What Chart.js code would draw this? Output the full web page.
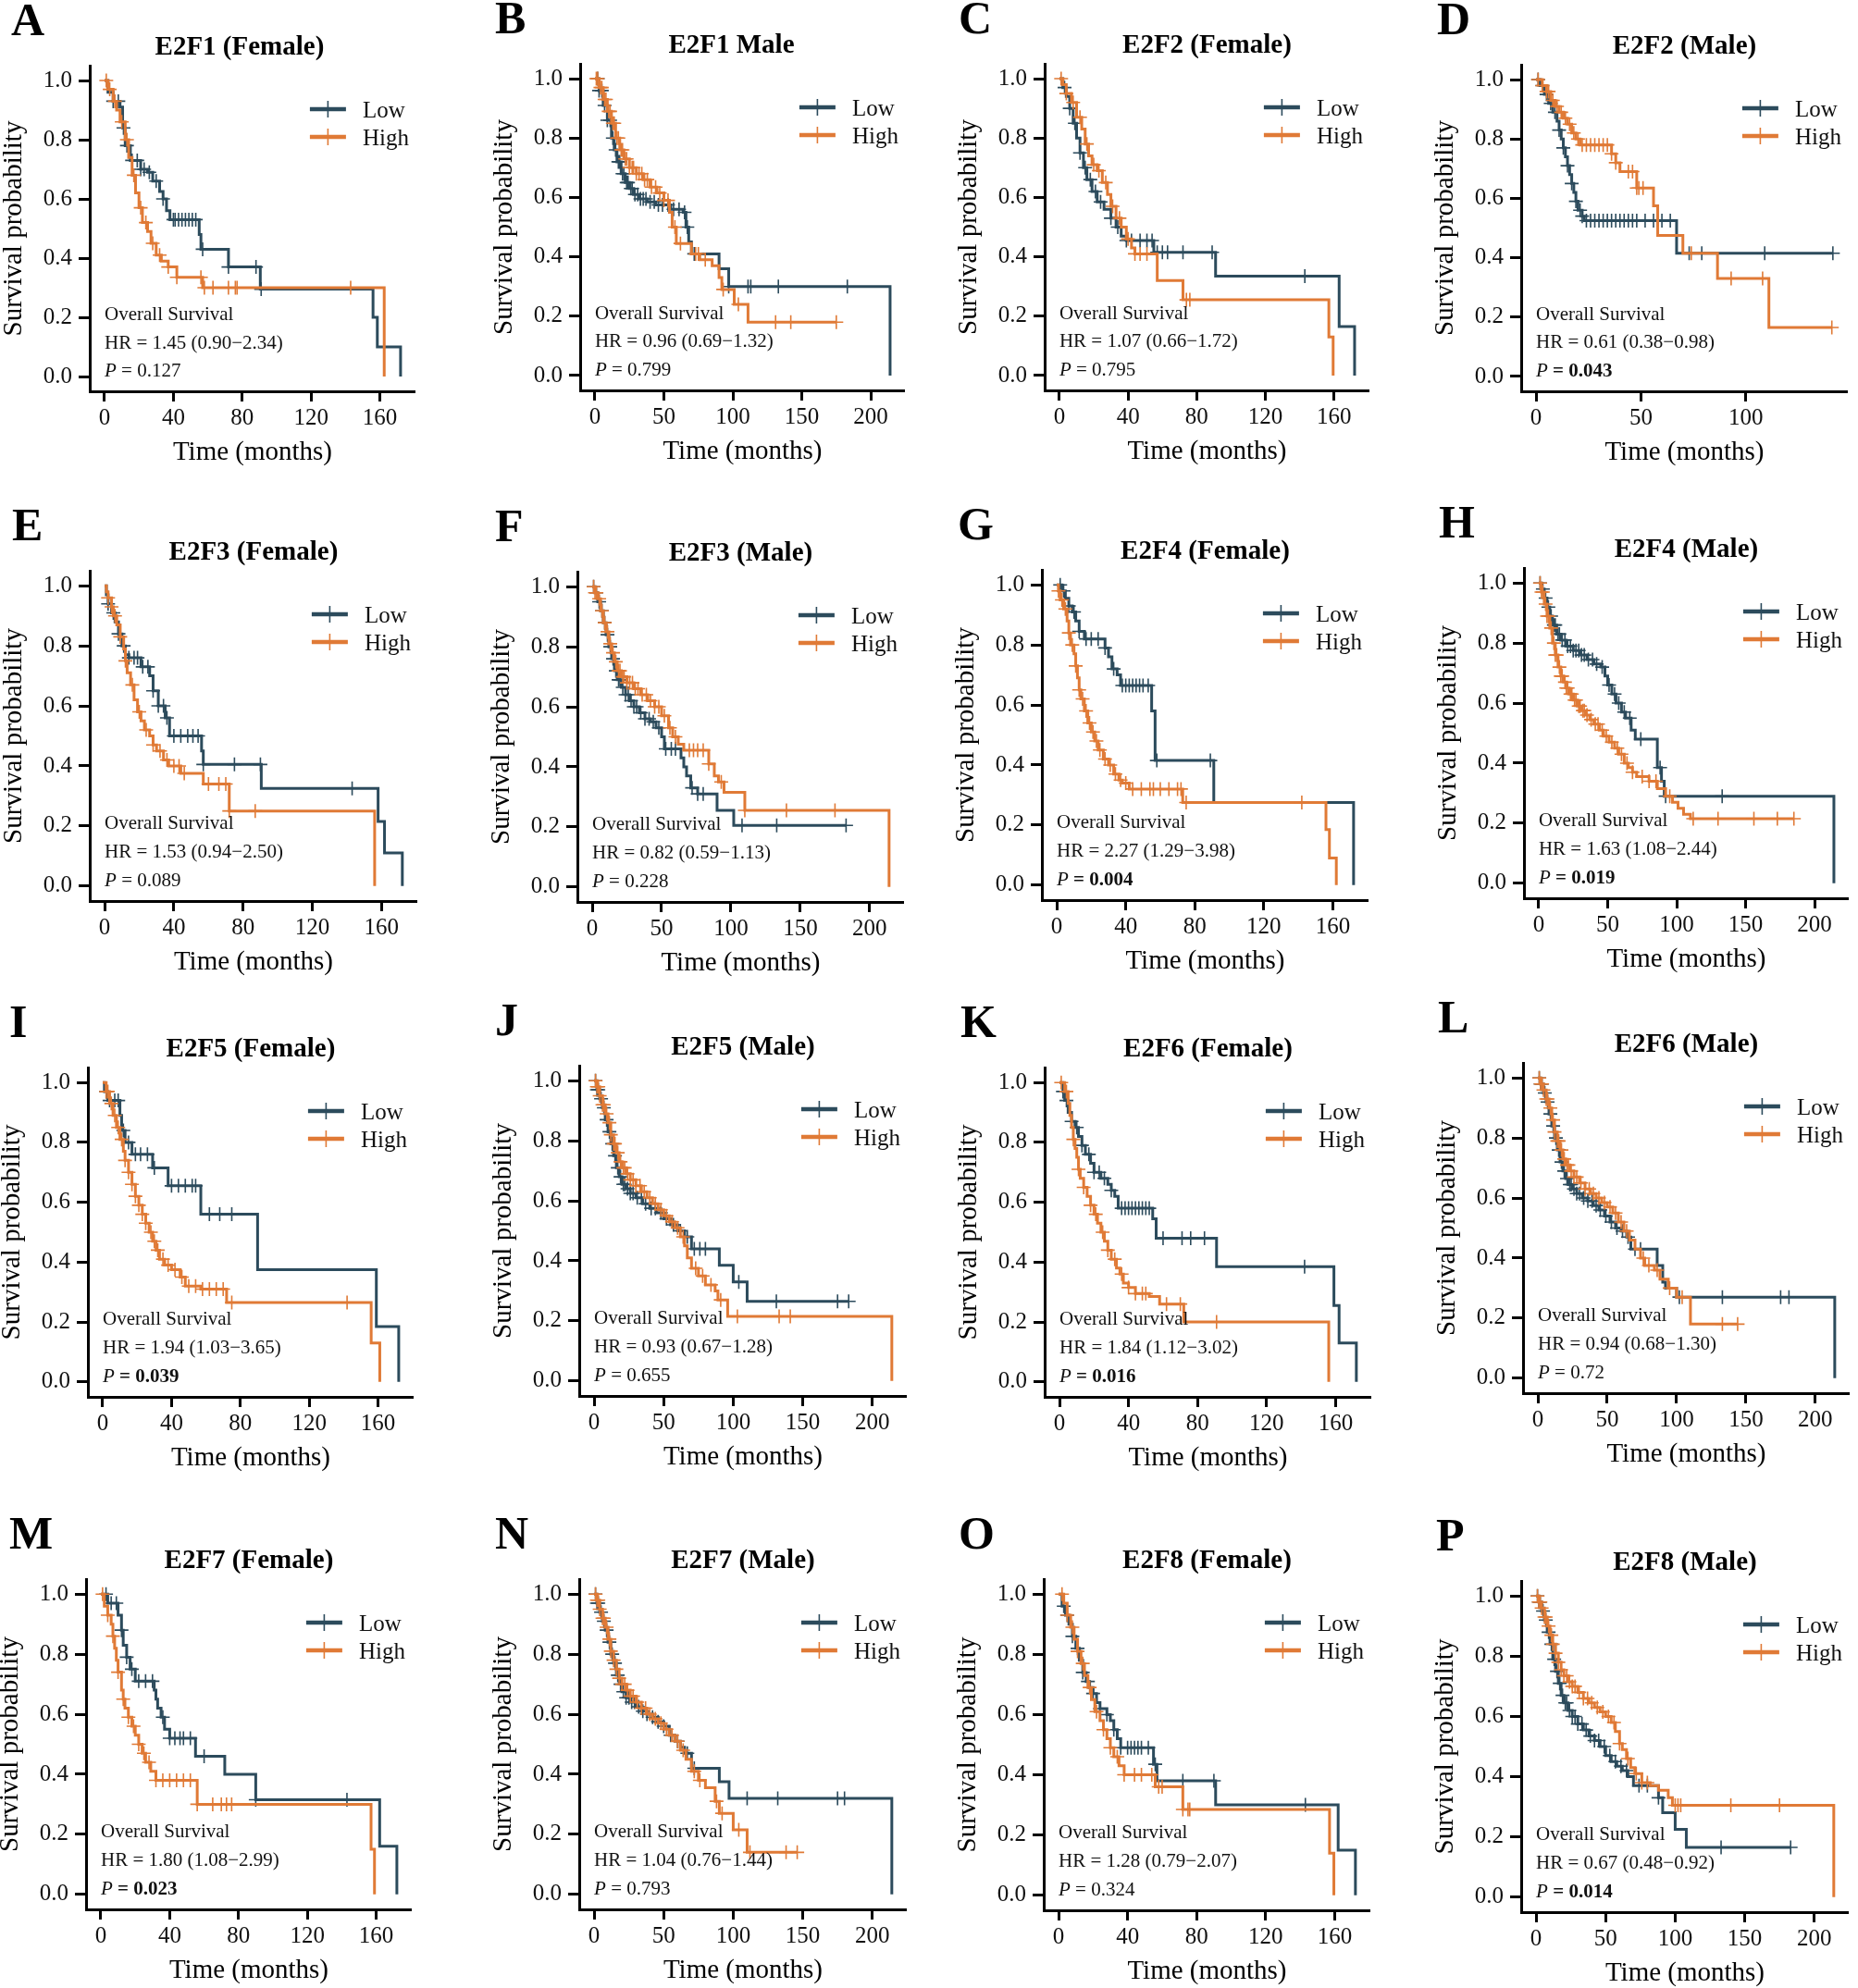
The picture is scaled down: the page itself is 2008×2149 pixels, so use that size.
<!DOCTYPE html>
<html lang="en">

<head>
    <meta charset="UTF-8">
    <title>E2F family survival by sex</title>
    <script src="https://cdn.jsdelivr.net/npm/chart.js"></script>
    <style>
        html,
        body {
            margin: 0;
            padding: 0;
            background: #fff;
            overflow: hidden;
        }

        body {
            width: 2008px;
            height: 2149px;
            position: relative;
        }

        canvas {
            position: absolute;
        }
    </style>
</head>

<body>
    <script>
        // Kaplan-Meier curves: event times, survival after each drop, censor times
        const A_low_t = [2, 5, 9, 10.5, 12, 15, 21, 25, 28, 32, 34, 36, 38, 55, 56, 72, 90.5, 156, 158.5, 172];
        const A_low_s = [0.96, 0.93, 0.91, 0.84, 0.78, 0.73, 0.70, 0.69, 0.66, 0.625, 0.60, 0.56, 0.53, 0.48, 0.43, 0.37, 0.295, 0.20, 0.10, 0];
        const A_low_c = [5, 8, 11, 13, 16, 19, 21, 23, 26, 30, 34, 40, 41, 43, 45, 47, 49, 51, 53, 57, 72, 88, 91];
        const A_high_t = [2, 5, 7, 9, 12, 14, 16, 18, 20, 22, 25, 27, 30, 33, 37, 42, 57, 162.5];
        const A_high_s = [0.97, 0.93, 0.90, 0.86, 0.80, 0.74, 0.68, 0.62, 0.57, 0.52, 0.49, 0.45, 0.41, 0.39, 0.37, 0.335, 0.30, 0];
        const A_high_c = [1, 3, 6, 10, 13, 17, 21, 24, 28, 32, 37, 42, 56, 58, 63, 72, 76, 77, 143];

        const B_low_t = [3, 6, 9, 12, 14, 16, 19, 22, 25, 28, 32, 38, 44, 55, 64, 66, 68, 70, 90, 97, 214];
        const B_low_s = [0.96, 0.91, 0.86, 0.80, 0.76, 0.72, 0.68, 0.65, 0.63, 0.61, 0.595, 0.585, 0.575, 0.56, 0.55, 0.50, 0.45, 0.41, 0.36, 0.30, 0];
        const B_low_c = [2, 3, 5, 7, 9, 11, 13, 15, 17, 18, 20, 21, 23, 24, 26, 27, 29, 31, 33, 35, 37, 40, 43, 46, 49, 53, 57, 61, 65, 67, 72, 97, 111, 113, 133, 183];
        const B_high_t = [3, 6, 9, 12, 15, 18, 21, 25, 30, 35, 40, 45, 50, 54, 56, 59, 70, 76, 85, 90, 92, 101, 111];
        const B_high_s = [0.97, 0.93, 0.89, 0.85, 0.80, 0.76, 0.73, 0.70, 0.68, 0.66, 0.635, 0.615, 0.59, 0.55, 0.50, 0.445, 0.41, 0.39, 0.37, 0.33, 0.29, 0.24, 0.18];
        const B_high_c = [1, 2, 4, 5, 7, 8, 10, 11, 13, 14, 16, 17, 19, 20, 22, 23, 25, 27, 28, 30, 32, 34, 36, 38, 41, 44, 47, 50, 53, 58, 62, 73, 75, 80, 93, 104, 131, 142, 175];

        const C_low_t = [2, 4, 6, 8, 10, 12, 14, 16, 19, 22, 26, 30, 33, 36, 39, 55, 91, 163, 172];
        const C_low_s = [0.97, 0.94, 0.90, 0.85, 0.80, 0.75, 0.70, 0.66, 0.62, 0.585, 0.56, 0.53, 0.50, 0.47, 0.455, 0.415, 0.335, 0.165, 0];
        const C_low_c = [3, 6, 9, 12, 15, 18, 21, 24, 30, 34, 39, 42, 47, 51, 54, 57, 60, 63, 72, 89, 143];
        const C_high_t = [2, 4, 7, 10, 13, 15, 17, 19, 22, 25, 28, 30, 33, 36, 39, 42, 44, 57, 72, 157, 159.5];
        const C_high_s = [0.98, 0.95, 0.92, 0.87, 0.83, 0.78, 0.74, 0.71, 0.69, 0.65, 0.61, 0.57, 0.53, 0.50, 0.46, 0.43, 0.41, 0.32, 0.255, 0.13, 0];
        const C_high_c = [1, 4, 8, 12, 16, 20, 23, 27, 31, 35, 40, 44, 47, 51, 74, 76];

        const D_low_t = [2, 4, 6, 8, 10, 11, 12, 13, 14, 15, 16, 17, 18, 19, 20, 22, 23, 67];
        const D_low_s = [0.98, 0.95, 0.92, 0.89, 0.86, 0.83, 0.80, 0.77, 0.74, 0.71, 0.68, 0.65, 0.62, 0.59, 0.56, 0.54, 0.525, 0.415];
        const D_low_c = [1, 3, 5, 7, 9, 11, 13, 15, 17, 19, 21, 22, 24, 26, 28, 30, 32, 34, 36, 38, 40, 42, 44, 46, 48, 52, 56, 60, 64, 73, 79, 109, 141.5];
        const D_high_t = [3, 5, 7, 9, 11, 13, 15, 17, 19, 21, 36, 38, 40, 48, 56, 58, 70, 86.5, 111];
        const D_high_s = [0.98, 0.96, 0.93, 0.91, 0.89, 0.87, 0.85, 0.82, 0.80, 0.78, 0.75, 0.72, 0.69, 0.635, 0.575, 0.475, 0.415, 0.33, 0.165];
        const D_high_c = [1, 3, 5, 6, 8, 10, 12, 14, 16, 18, 20, 22, 24, 26, 28, 30, 32, 34, 36, 38, 44, 46, 48, 49, 51, 74, 93, 108, 141];

        const E_low_t = [1, 2, 4, 6, 8, 10, 12, 14, 21, 26, 28, 31, 35, 37.5, 56, 57, 90.5, 158, 161.7, 172];
        const E_low_s = [0.97, 0.94, 0.91, 0.88, 0.84, 0.80, 0.77, 0.76, 0.73, 0.70, 0.65, 0.60, 0.56, 0.50, 0.45, 0.405, 0.325, 0.215, 0.11, 0];
        const E_low_c = [2, 5, 8, 11, 14, 17, 19, 22, 25, 28, 31, 34, 36, 40, 44, 48, 51, 54, 57, 75, 90, 143];
        const E_high_t = [1, 2, 4, 5, 7, 9, 11, 12, 13, 15, 17, 19, 21, 23, 26, 28, 30, 34, 37, 44, 57, 72, 156];
        const E_high_s = [0.98, 0.96, 0.93, 0.90, 0.87, 0.83, 0.79, 0.75, 0.71, 0.67, 0.62, 0.58, 0.55, 0.52, 0.50, 0.47, 0.45, 0.42, 0.40, 0.375, 0.34, 0.25, 0];
        const E_high_c = [2, 4, 6, 9, 12, 16, 20, 24, 28, 32, 36, 40, 43, 46, 60, 66, 70, 72, 87];

        const F_low_t = [2, 4, 6, 8, 10, 12, 14, 16, 18, 21, 24, 27, 30, 34, 38, 42, 46, 50, 52, 64, 66, 68, 71, 76, 90, 102];
        const F_low_s = [0.98, 0.95, 0.92, 0.88, 0.84, 0.80, 0.76, 0.72, 0.69, 0.665, 0.64, 0.62, 0.60, 0.58, 0.56, 0.55, 0.53, 0.50, 0.46, 0.43, 0.40, 0.37, 0.33, 0.31, 0.255, 0.205];
        const F_low_c = [1, 3, 5, 7, 9, 11, 13, 15, 17, 19, 20, 22, 24, 26, 28, 30, 32, 35, 38, 41, 44, 48, 53, 57, 60, 72, 76, 80, 108, 133, 183];
        const F_high_t = [2, 4, 6, 8, 10, 12, 14, 16, 18, 21, 25, 30, 35, 40, 45, 50, 55, 58, 62, 66, 84, 88, 91, 95, 110, 214];
        const F_high_s = [0.98, 0.96, 0.92, 0.88, 0.85, 0.81, 0.78, 0.75, 0.72, 0.70, 0.68, 0.66, 0.64, 0.62, 0.60, 0.57, 0.53, 0.50, 0.475, 0.455, 0.41, 0.37, 0.35, 0.315, 0.255, 0];
        const F_high_c = [1, 2, 3, 5, 7, 9, 11, 13, 15, 17, 19, 20, 22, 23, 25, 27, 29, 31, 33, 36, 39, 42, 45, 48, 52, 56, 60, 70, 73, 76, 80, 84, 93, 110, 140, 175];

        const G_low_t = [3, 5, 7, 9, 11, 13, 16, 28, 30, 32, 35, 37, 55, 57, 91, 172];
        const G_low_s = [0.98, 0.955, 0.93, 0.91, 0.88, 0.845, 0.82, 0.79, 0.76, 0.72, 0.70, 0.665, 0.58, 0.415, 0.275, 0];
        const G_low_c = [2, 4, 7, 10, 13, 17, 20, 24, 28, 33, 38, 40, 42, 44, 46, 48, 50, 53, 58, 89];
        const G_high_t = [1, 2, 4, 6, 7, 8, 10, 11, 12, 13, 14, 16, 18, 20, 22, 24, 27, 30, 33, 36, 38, 42, 73, 156, 158, 162];
        const G_high_s = [0.98, 0.95, 0.92, 0.88, 0.84, 0.80, 0.77, 0.73, 0.69, 0.65, 0.62, 0.58, 0.54, 0.51, 0.48, 0.45, 0.42, 0.40, 0.37, 0.35, 0.34, 0.32, 0.275, 0.185, 0.09, 0];
        const G_high_c = [1, 3, 5, 7, 9, 11, 13, 15, 17, 19, 21, 23, 25, 28, 31, 34, 37, 40, 44, 49, 54, 56, 60, 65, 70, 72, 75, 142];

        const H_low_t = [2, 4, 6, 8, 10, 13, 16, 20, 25, 30, 35, 40, 45, 48, 50, 53, 56, 60, 63, 67, 70, 86, 89, 91, 214];
        const H_low_s = [0.98, 0.95, 0.92, 0.89, 0.86, 0.83, 0.81, 0.79, 0.775, 0.76, 0.745, 0.73, 0.72, 0.69, 0.66, 0.63, 0.60, 0.57, 0.55, 0.51, 0.48, 0.385, 0.34, 0.29, 0];
        const H_low_c = [1, 3, 5, 7, 9, 11, 12, 14, 15, 17, 19, 21, 23, 25, 27, 29, 31, 33, 36, 39, 42, 46, 51, 55, 58, 62, 66, 74, 88, 92, 133];
        const H_high_t = [2, 4, 6, 8, 10, 12, 14, 16, 18, 20, 22, 25, 28, 31, 34, 37, 40, 44, 47, 51, 55, 58, 62, 65, 68, 71, 80, 86, 92, 97, 101, 105, 110];
        const H_high_s = [0.97, 0.93, 0.89, 0.85, 0.80, 0.76, 0.72, 0.69, 0.67, 0.65, 0.63, 0.61, 0.59, 0.575, 0.56, 0.545, 0.53, 0.51, 0.49, 0.47, 0.45, 0.43, 0.40, 0.385, 0.37, 0.355, 0.34, 0.315, 0.29, 0.27, 0.25, 0.23, 0.215];
        const H_high_c = [1, 2, 3, 5, 6, 7, 9, 11, 12, 13, 15, 16, 17, 19, 20, 21, 23, 24, 26, 27, 29, 30, 32, 33, 35, 38, 41, 43, 46, 49, 53, 57, 60, 64, 68, 75, 80, 85, 95, 112, 130, 156, 173, 185];

        const I_low_t = [1, 3, 10, 11, 13, 17, 29, 38, 57, 90, 159, 172];
        const I_low_s = [0.97, 0.94, 0.89, 0.84, 0.80, 0.76, 0.715, 0.655, 0.56, 0.375, 0.185, 0];
        const I_low_c = [2, 4, 7, 9, 12, 15, 19, 22, 26, 30, 40, 44, 48, 52, 54, 62, 68, 75];
        const I_high_t = [2, 4, 6, 8, 10, 12, 13, 15, 17, 19, 21, 23, 25, 27, 29, 31, 33, 36, 40, 45, 48, 57, 72, 156, 161];
        const I_high_s = [0.97, 0.93, 0.89, 0.85, 0.81, 0.77, 0.74, 0.70, 0.66, 0.62, 0.59, 0.56, 0.53, 0.50, 0.47, 0.44, 0.41, 0.39, 0.375, 0.35, 0.32, 0.31, 0.265, 0.13, 0];
        const I_high_c = [2, 3, 5, 7, 9, 11, 13, 15, 17, 19, 21, 23, 25, 28, 30, 32, 35, 38, 42, 46, 50, 54, 58, 62, 66, 70, 75, 142];

        const J_low_t = [2, 4, 6, 8, 10, 12, 14, 16, 18, 20, 23, 26, 30, 35, 40, 45, 50, 55, 60, 65, 70, 90, 100, 110];
        const J_low_s = [0.97, 0.94, 0.91, 0.87, 0.83, 0.79, 0.75, 0.71, 0.68, 0.655, 0.64, 0.625, 0.61, 0.59, 0.575, 0.56, 0.54, 0.52, 0.50, 0.48, 0.44, 0.385, 0.33, 0.265];
        const J_low_c = [1, 2, 3, 5, 7, 9, 11, 13, 15, 17, 19, 21, 22, 24, 26, 28, 31, 34, 37, 41, 44, 48, 52, 57, 62, 67, 72, 76, 80, 104, 131, 175, 183];
        const J_high_t = [2, 4, 6, 8, 10, 12, 14, 16, 18, 20, 23, 26, 30, 34, 38, 42, 46, 50, 54, 58, 62, 65, 67, 70, 75, 80, 87, 89, 96, 214];
        const J_high_s = [0.98, 0.95, 0.92, 0.89, 0.86, 0.82, 0.79, 0.76, 0.73, 0.71, 0.69, 0.67, 0.65, 0.63, 0.61, 0.59, 0.57, 0.55, 0.53, 0.51, 0.48, 0.45, 0.41, 0.375, 0.35, 0.32, 0.30, 0.27, 0.215, 0];
        const J_high_c = [1, 2, 3, 4, 6, 7, 9, 11, 12, 14, 15, 17, 19, 21, 22, 24, 26, 28, 30, 33, 36, 40, 44, 48, 52, 56, 60, 64, 73, 78, 84, 91, 103, 133, 141];

        const K_low_t = [2, 3, 5, 7, 9, 11, 13, 15, 18, 20, 24, 28, 30, 32, 34, 54, 56, 91, 159, 162, 172];
        const K_low_s = [0.97, 0.94, 0.90, 0.87, 0.85, 0.82, 0.79, 0.76, 0.73, 0.70, 0.68, 0.66, 0.64, 0.62, 0.58, 0.545, 0.48, 0.385, 0.255, 0.13, 0];
        const K_low_c = [2, 4, 7, 10, 13, 17, 20, 23, 26, 30, 36, 38, 40, 42, 44, 46, 48, 50, 52, 60, 71, 76, 84, 142];
        const K_high_t = [3, 5, 6, 7, 8, 9, 10, 11, 12, 14, 16, 18, 20, 22, 24, 26, 28, 30, 33, 35, 37, 40, 44, 52, 58, 72, 156];
        const K_high_s = [0.97, 0.93, 0.89, 0.85, 0.81, 0.78, 0.75, 0.71, 0.68, 0.65, 0.62, 0.59, 0.56, 0.53, 0.50, 0.47, 0.44, 0.41, 0.38, 0.36, 0.33, 0.315, 0.295, 0.285, 0.26, 0.20, 0];
        const K_high_c = [1, 4, 8, 11, 14, 18, 21, 25, 28, 32, 36, 40, 44, 48, 50, 62, 70, 91];

        const L_low_t = [2, 4, 6, 8, 10, 12, 14, 16, 18, 20, 22, 25, 28, 32, 36, 40, 44, 48, 52, 56, 60, 64, 67, 86, 90, 92, 100, 214];
        const L_low_s = [0.98, 0.95, 0.92, 0.88, 0.84, 0.80, 0.76, 0.72, 0.69, 0.665, 0.645, 0.63, 0.615, 0.60, 0.59, 0.575, 0.56, 0.54, 0.52, 0.50, 0.49, 0.47, 0.43, 0.375, 0.32, 0.30, 0.27, 0];
        const L_low_c = [1, 2, 3, 5, 7, 9, 11, 13, 15, 17, 19, 21, 23, 24, 26, 28, 30, 33, 36, 39, 42, 45, 49, 53, 57, 61, 65, 70, 74, 102, 133, 175, 181];
        const L_high_t = [2, 4, 6, 8, 10, 12, 14, 16, 18, 20, 23, 26, 30, 34, 38, 42, 46, 50, 54, 58, 62, 66, 70, 74, 77, 84, 88, 94, 100, 110];
        const L_high_s = [0.98, 0.96, 0.93, 0.90, 0.86, 0.82, 0.79, 0.76, 0.73, 0.71, 0.69, 0.67, 0.65, 0.63, 0.615, 0.60, 0.585, 0.57, 0.55, 0.52, 0.49, 0.46, 0.43, 0.40, 0.375, 0.36, 0.33, 0.30, 0.27, 0.18];
        const L_high_c = [1, 2, 3, 4, 6, 7, 9, 11, 12, 14, 15, 17, 19, 21, 22, 24, 26, 28, 31, 34, 37, 40, 44, 48, 52, 56, 60, 64, 76, 80, 86, 95, 104, 133, 144];

        const M_low_t = [4, 10, 12, 13, 15, 17, 20, 31, 32, 33, 35, 37, 40, 55, 72, 90, 162, 172];
        const M_low_s = [0.97, 0.93, 0.88, 0.83, 0.79, 0.75, 0.71, 0.68, 0.65, 0.62, 0.59, 0.55, 0.52, 0.46, 0.40, 0.315, 0.16, 0];
        const M_low_c = [3, 6, 9, 12, 15, 18, 22, 26, 30, 36, 40, 43, 46, 48, 52, 60, 90, 143];
        const M_high_t = [2, 4, 6, 7, 8, 9, 10, 12, 13, 14, 16, 18, 20, 22, 24, 26, 29, 32, 56, 157, 159];
        const M_high_s = [0.96, 0.93, 0.90, 0.86, 0.82, 0.78, 0.74, 0.68, 0.65, 0.62, 0.59, 0.56, 0.53, 0.50, 0.47, 0.44, 0.41, 0.38, 0.30, 0.15, 0];
        const M_high_c = [1, 4, 7, 10, 13, 16, 19, 22, 25, 28, 32, 36, 40, 44, 48, 52, 56, 65, 70, 73, 76];

        const N_low_t = [2, 4, 6, 8, 10, 12, 14, 16, 18, 20, 23, 26, 30, 34, 38, 42, 46, 50, 54, 58, 62, 65, 70, 90, 97, 214];
        const N_low_s = [0.97, 0.94, 0.91, 0.88, 0.84, 0.80, 0.77, 0.73, 0.70, 0.675, 0.655, 0.64, 0.625, 0.61, 0.60, 0.59, 0.575, 0.56, 0.53, 0.51, 0.49, 0.47, 0.42, 0.375, 0.32, 0];
        const N_low_c = [1, 2, 3, 5, 7, 9, 11, 13, 15, 17, 19, 21, 23, 25, 27, 29, 32, 35, 38, 42, 46, 50, 55, 60, 67, 72, 110, 132, 175, 180];
        const N_high_t = [2, 4, 6, 8, 10, 12, 14, 16, 18, 20, 23, 26, 30, 34, 38, 42, 46, 50, 54, 58, 62, 66, 70, 75, 80, 87, 90, 100, 110];
        const N_high_s = [0.98, 0.95, 0.92, 0.89, 0.85, 0.81, 0.78, 0.75, 0.72, 0.70, 0.68, 0.66, 0.64, 0.62, 0.60, 0.585, 0.57, 0.55, 0.53, 0.51, 0.48, 0.45, 0.41, 0.38, 0.355, 0.31, 0.27, 0.215, 0.14];
        const N_high_c = [1, 2, 3, 4, 6, 7, 9, 11, 12, 14, 16, 18, 20, 22, 24, 26, 28, 31, 34, 37, 40, 44, 48, 52, 56, 60, 64, 72, 76, 88, 92, 104, 112, 138, 146];

        const O_low_t = [2, 4, 6, 8, 10, 12, 14, 16, 18, 20, 22, 24, 28, 30, 32, 34, 36, 55, 57, 91, 162, 172];
        const O_low_s = [0.96, 0.93, 0.90, 0.86, 0.82, 0.78, 0.74, 0.71, 0.69, 0.67, 0.64, 0.62, 0.60, 0.58, 0.55, 0.52, 0.49, 0.435, 0.38, 0.30, 0.15, 0];
        const O_low_c = [3, 5, 8, 11, 14, 17, 20, 24, 28, 32, 36, 40, 42, 44, 46, 48, 52, 56, 72, 90, 143];
        const O_high_t = [3, 5, 7, 9, 11, 13, 15, 17, 19, 21, 24, 26, 28, 30, 32, 35, 38, 56, 72, 157, 159.5];
        const O_high_s = [0.97, 0.93, 0.89, 0.85, 0.81, 0.77, 0.73, 0.69, 0.65, 0.61, 0.58, 0.55, 0.52, 0.49, 0.46, 0.43, 0.40, 0.36, 0.285, 0.14, 0];
        const O_high_c = [2, 5, 8, 11, 14, 18, 22, 26, 30, 34, 38, 44, 48, 54, 58, 60, 72, 75, 76];

        const P_low_t = [2, 4, 6, 8, 10, 12, 14, 16, 18, 20, 23, 26, 30, 34, 38, 42, 46, 50, 54, 58, 62, 66, 70, 88, 91, 100, 108];
        const P_low_s = [0.98, 0.95, 0.92, 0.88, 0.84, 0.79, 0.75, 0.71, 0.67, 0.645, 0.62, 0.60, 0.575, 0.555, 0.535, 0.52, 0.50, 0.47, 0.45, 0.435, 0.42, 0.40, 0.37, 0.33, 0.28, 0.225, 0.165];
        const P_low_c = [1, 2, 3, 5, 7, 9, 11, 13, 15, 17, 19, 21, 22, 24, 26, 28, 30, 33, 36, 39, 42, 45, 49, 53, 57, 61, 65, 74, 80, 88, 133, 183];
        const P_high_t = [2, 4, 6, 8, 10, 12, 14, 16, 18, 20, 23, 26, 30, 34, 38, 42, 46, 50, 54, 57, 60, 62, 65, 68, 71, 76, 82, 88, 95, 98, 214];
        const P_high_s = [0.98, 0.96, 0.93, 0.90, 0.87, 0.84, 0.81, 0.78, 0.755, 0.735, 0.715, 0.70, 0.68, 0.66, 0.645, 0.63, 0.615, 0.60, 0.58, 0.55, 0.51, 0.49, 0.46, 0.43, 0.41, 0.38, 0.37, 0.355, 0.33, 0.305, 0];
        const P_high_c = [1, 2, 3, 4, 6, 7, 9, 11, 12, 14, 16, 18, 20, 22, 24, 26, 28, 31, 34, 37, 40, 44, 48, 52, 56, 60, 66, 72, 76, 80, 100, 102, 104, 140, 175];

        const femaleTicks = [0, 40, 80, 120, 160];
        const maleTicks = [0, 50, 100, 150, 200];
        const shortTicks = [0, 50, 100];
        const yTicks = [0, 0.2, 0.4, 0.6, 0.8, 1.0];

        const lowColor = '#2c4b5c';
        const highColor = '#e07a36';
        const FONT = '"Liberation Serif", "Times New Roman", serif';

        // area = plot box [left, top, right, bottom] in page pixels
        const panels = [
            { id: 'A', title: 'E2F1 (Female)', hr: 'HR = 1.45 (0.90\u22122.34)', p: '0.127', sig: false, ticks: femaleTicks, low: [A_low_t, A_low_s, A_low_c], high: [A_high_t, A_high_s, A_high_c], area: [97, 71, 456, 423], titleDx: -14, letterDx: -85 },
            { id: 'B', title: 'E2F1 Male', hr: 'HR = 0.96 (0.69\u22121.32)', p: '0.799', sig: false, ticks: maleTicks, low: [B_low_t, B_low_s, B_low_c], high: [B_high_t, B_high_s, B_high_c], area: [627, 69, 985, 422], titleDx: -12, letterDx: -92 },
            { id: 'C', title: 'E2F2 (Female)', hr: 'HR = 1.07 (0.66\u22121.72)', p: '0.795', sig: false, ticks: femaleTicks, low: [C_low_t, C_low_s, C_low_c], high: [C_high_t, C_high_s, C_high_c], area: [1129, 69, 1487, 422], titleDx: 0, letterDx: -93 },
            { id: 'D', title: 'E2F2 (Male)', hr: 'HR = 0.61 (0.38\u22120.98)', p: '0.043', sig: true, ticks: shortTicks, low: [D_low_t, D_low_s, D_low_c], high: [D_high_t, D_high_s, D_high_c], area: [1644, 70, 2004, 423], titleDx: 0, letterDx: -91 },
            { id: 'E', title: 'E2F3 (Female)', hr: 'HR = 1.53 (0.94\u22122.50)', p: '0.089', sig: false, ticks: femaleTicks, low: [E_low_t, E_low_s, E_low_c], high: [E_high_t, E_high_s, E_high_c], area: [97, 617, 458, 974], titleDx: 0, letterDx: -84 },
            { id: 'F', title: 'E2F3 (Male)', hr: 'HR = 0.82 (0.59\u22121.13)', p: '0.228', sig: false, ticks: maleTicks, low: [F_low_t, F_low_s, F_low_c], high: [F_high_t, F_high_s, F_high_c], area: [624, 618, 984, 975], titleDx: 0, letterDx: -89 },
            { id: 'G', title: 'E2F4 (Female)', hr: 'HR = 2.27 (1.29\u22123.98)', p: '0.004', sig: true, ticks: femaleTicks, low: [G_low_t, G_low_s, G_low_c], high: [G_high_t, G_high_s, G_high_c], area: [1126, 616, 1486, 973], titleDx: 0, letterDx: -91 },
            { id: 'H', title: 'E2F4 (Male)', hr: 'HR = 1.63 (1.08\u22122.44)', p: '0.019', sig: true, ticks: maleTicks, low: [H_low_t, H_low_s, H_low_c], high: [H_high_t, H_high_s, H_high_c], area: [1647, 614, 2005, 971], titleDx: 0, letterDx: -92 },
            { id: 'I', title: 'E2F5 (Female)', hr: 'HR = 1.94 (1.03\u22123.65)', p: '0.039', sig: true, ticks: femaleTicks, low: [I_low_t, I_low_s, I_low_c], high: [I_high_t, I_high_s, I_high_c], area: [95, 1154, 454, 1510], titleDx: 0, letterDx: -85 },
            { id: 'J', title: 'E2F5 (Male)', hr: 'HR = 0.93 (0.67\u22121.28)', p: '0.655', sig: false, ticks: maleTicks, low: [J_low_t, J_low_s, J_low_c], high: [J_high_t, J_high_s, J_high_c], area: [626, 1152, 987, 1509], titleDx: 0, letterDx: -91 },
            { id: 'K', title: 'E2F6 (Female)', hr: 'HR = 1.84 (1.12\u22123.02)', p: '0.016', sig: true, ticks: femaleTicks, low: [K_low_t, K_low_s, K_low_c], high: [K_high_t, K_high_s, K_high_c], area: [1129, 1154, 1489, 1510], titleDx: 0, letterDx: -91 },
            { id: 'L', title: 'E2F6 (Male)', hr: 'HR = 0.94 (0.68\u22121.30)', p: '0.72', sig: false, ticks: maleTicks, low: [L_low_t, L_low_s, L_low_c], high: [L_high_t, L_high_s, L_high_c], area: [1646, 1149, 2006, 1506], titleDx: 0, letterDx: -92 },
            { id: 'M', title: 'E2F7 (Female)', hr: 'HR = 1.80 (1.08\u22122.99)', p: '0.023', sig: true, ticks: femaleTicks, low: [M_low_t, M_low_s, M_low_c], high: [M_high_t, M_high_s, M_high_c], area: [93, 1707, 452, 2064], titleDx: 0, letterDx: -83 },
            { id: 'N', title: 'E2F7 (Male)', hr: 'HR = 1.04 (0.76\u22121.44)', p: '0.793', sig: false, ticks: maleTicks, low: [N_low_t, N_low_s, N_low_c], high: [N_high_t, N_high_s, N_high_c], area: [626, 1707, 987, 2064], titleDx: 0, letterDx: -91 },
            { id: 'O', title: 'E2F8 (Female)', hr: 'HR = 1.28 (0.79\u22122.07)', p: '0.324', sig: false, ticks: femaleTicks, low: [O_low_t, O_low_s, O_low_c], high: [O_high_t, O_high_s, O_high_c], area: [1128, 1707, 1488, 2065], titleDx: 0, letterDx: -92 },
            { id: 'P', title: 'E2F8 (Male)', hr: 'HR = 0.67 (0.48\u22120.92)', p: '0.014', sig: true, ticks: maleTicks, low: [P_low_t, P_low_s, P_low_c], high: [P_high_t, P_high_s, P_high_c], area: [1644, 1709, 2005, 2067], titleDx: 0, letterDx: -92 }
        ];

        const ML = 105, MT = 80, MR = 2, MB = 90;

        function stepPoints(times, surv, cens) {
            const pts = [{ x: 0, y: 1 }];
            times.forEach((t, i) => pts.push({ x: t, y: surv[i] }));
            const last = pts[pts.length - 1];
            const lastCens = Math.max(...cens);
            if (last.y > 0 && lastCens > last.x) pts.push({ x: lastCens, y: last.y });
            return pts;
        }

        function survAt(times, surv, t) {
            let s = 1;
            for (let i = 0; i < times.length; i++) {
                if (times[i] <= t) s = surv[i];
            }
            return s;
        }

        function curveSets(curve, color, order) {
            const [t, s, c] = curve;
            return [
                {
                    data: stepPoints(t, s, c), stepped: true, borderColor: color, borderWidth: 3,
                    pointRadius: 0, fill: false, order: order + 1
                },
                {
                    data: c.map(x => ({ x: x, y: survAt(t, s, x) })), showLine: false,
                    pointStyle: 'cross', pointRadius: 7.5, pointBorderWidth: 1.6,
                    borderColor: color, pointBorderColor: color, backgroundColor: color, order: order
                }
            ];
        }

        function textPlugin(p) {
            return {
                id: 'kmText' + p.id,
                afterDraw(chart) {
                    const ctx = chart.ctx;
                    const a = chart.chartArea;
                    const xs = chart.scales.x, ys = chart.scales.y;
                    ctx.save();
                    ctx.fillStyle = '#000';
                    ctx.textBaseline = 'alphabetic';

                    ctx.font = 'bold 50px ' + FONT;
                    ctx.textAlign = 'left';
                    ctx.fillText(p.id, a.left + p.letterDx, a.top - 33);

                    ctx.font = 'bold 29px ' + FONT;
                    ctx.textAlign = 'center';
                    ctx.fillText(p.title, (a.left + a.right) / 2 + p.titleDx, a.top - 12);

                    ctx.font = '29px ' + FONT;
                    ctx.fillText('Time (months)', (a.left + a.right) / 2, a.bottom + 74);

                    ctx.save();
                    ctx.translate(a.left - 74, ys.getPixelForValue(0.5));
                    ctx.rotate(-Math.PI / 2);
                    ctx.fillText('Survival probability', 0, 0);
                    ctx.restore();

                    // legend
                    const rows = [['Low', lowColor, 47], ['High', highColor, 77]];
                    rows.forEach(([label, color, dy]) => {
                        const y = a.top + dy;
                        ctx.strokeStyle = color;
                        ctx.lineWidth = 4.5;
                        ctx.beginPath();
                        ctx.moveTo(a.right - 114, y);
                        ctx.lineTo(a.right - 75, y);
                        ctx.stroke();
                        ctx.lineWidth = 1.6;
                        ctx.beginPath();
                        ctx.moveTo(a.right - 94.5, y - 9);
                        ctx.lineTo(a.right - 94.5, y + 9);
                        ctx.stroke();
                        ctx.fillStyle = '#111';
                        ctx.font = '25px ' + FONT;
                        ctx.textAlign = 'left';
                        ctx.fillText(label, a.right - 57, y + 9);
                    });

                    // statistics
                    const x0 = xs.getPixelForValue(0);
                    ctx.fillStyle = '#111';
                    ctx.textAlign = 'left';
                    ctx.font = '21px ' + FONT;
                    ctx.fillText('Overall Survival', x0, ys.getPixelForValue(0.19));
                    ctx.fillText(p.hr, x0, ys.getPixelForValue(0.095));
                    const yP = ys.getPixelForValue(0.0);
                    ctx.font = 'italic 21px ' + FONT;
                    ctx.fillText('P', x0, yP);
                    const w = ctx.measureText('P').width;
                    ctx.font = (p.sig ? 'bold ' : '') + '21px ' + FONT;
                    ctx.fillText(' = ' + p.p, x0 + w, yP);
                    ctx.restore();
                }
            };
        }

        const tickFont = { family: FONT, size: 25 };

        panels.forEach(p => {
            const [l, t, r, b] = p.area;
            const cv = document.createElement('canvas');
            cv.width = ML + (r - l) + MR;
            cv.height = MT + (b - t) + MB;
            cv.style.left = (l - ML) + 'px';
            cv.style.top = (t - MT) + 'px';
            document.body.appendChild(cv);

            const allTimes = [...p.low[0], ...p.low[2], ...p.high[0], ...p.high[2]];
            const tMax = Math.max(...allTimes);

            const datasets = [
                ...curveSets(p.high, highColor, 0),
                ...curveSets(p.low, lowColor, 2)
            ];

            new Chart(cv, {
                type: 'line',
                data: { datasets: datasets },
                options: {
                    responsive: false,
                    animation: false,
                    devicePixelRatio: 1,
                    layout: { padding: { left: 0, top: MT, right: MR, bottom: 0 } },
                    plugins: { legend: { display: false }, tooltip: { enabled: false } },
                    scales: {
                        x: {
                            type: 'linear',
                            min: -0.05 * tMax,
                            max: 1.05 * tMax,
                            afterBuildTicks: s => { s.ticks = p.ticks.map(v => ({ value: v })); },
                            afterFit: s => { s.height = MB; },
                            ticks: { font: tickFont, color: '#111', padding: 3, maxRotation: 0, autoSkip: false },
                            grid: { drawOnChartArea: false, drawTicks: true, tickLength: 11, tickWidth: 3, tickColor: '#000' },
                            border: { display: true, color: '#000', width: 3 }
                        },
                        y: {
                            type: 'linear',
                            min: -0.05,
                            max: 1.05,
                            afterBuildTicks: s => { s.ticks = yTicks.map(v => ({ value: v })); },
                            afterFit: s => { s.width = ML; },
                            ticks: { font: tickFont, color: '#111', padding: 7, autoSkip: false, callback: v => v.toFixed(1) },
                            grid: { drawOnChartArea: false, drawTicks: true, tickLength: 12, tickWidth: 3, tickColor: '#000' },
                            border: { display: true, color: '#000', width: 3 }
                        }
                    }
                },
                plugins: [textPlugin(p)]
            });
        });
    </script>
</body>

</html>
